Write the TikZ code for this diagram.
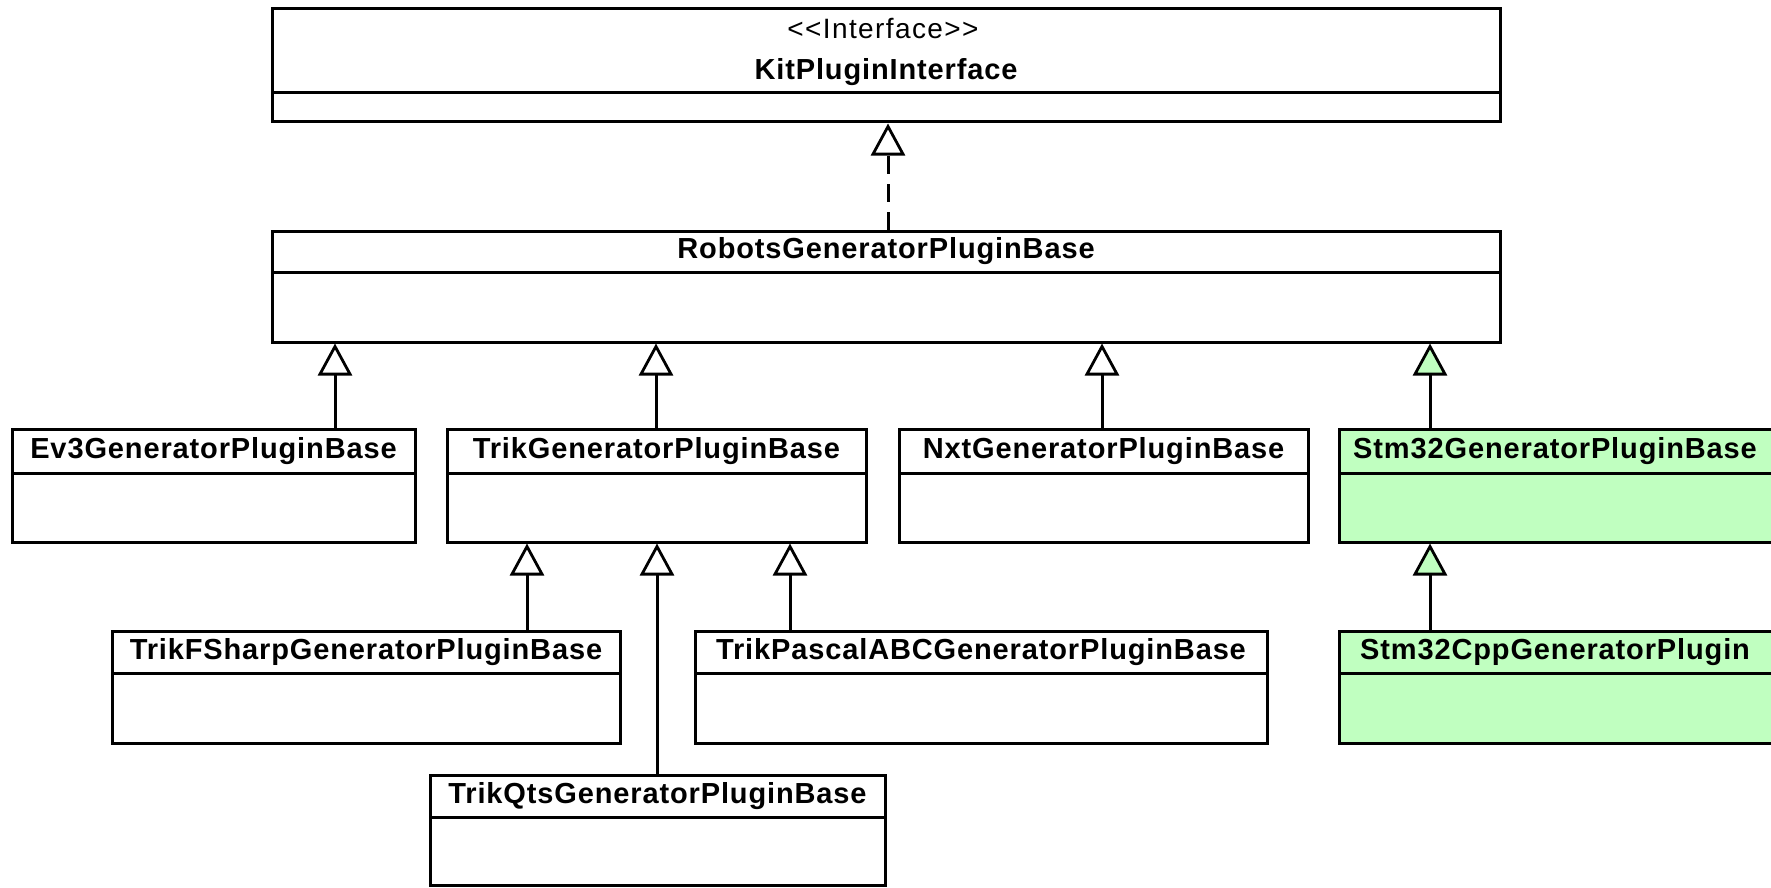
\documentclass[tikz,border=0pt]{standalone}
\usepackage{fontspec}
\setmainfont{Liberation Sans}
\newfontfamily\stereofont[LetterSpace=5]{Liberation Sans}
\usetikzlibrary{arrows.meta}
\definecolor{stmgreen}{RGB}{192,255,192}
\tikzset{
  classbox/.style={draw=black, line width=3pt, fill=white, inner sep=0pt},
  divline/.style={line width=3pt},
  titletext/.style={inner sep=0pt, font=\fontsize{29pt}{33pt}\selectfont\bfseries\addfontfeature{LetterSpace=3}},
  stereotext/.style={inner sep=0pt, font=\stereofont\fontsize{28pt}{32pt}\selectfont},
  inh/.style={line width=3pt, -{Triangle[open, length=32pt, width=34pt, line width=2.8pt]}},
  inhg/.style={line width=3pt, -{Triangle[length=32pt, width=34pt, line width=2.8pt, fill=stmgreen, color=black]}},
  realiz/.style={line width=3pt, dash pattern=on 18pt off 10pt, -{Triangle[open, length=32pt, width=34pt, line width=2.8pt]}}
}
% \umlclass{name}{x1}{y1}{x2}{y2}{ydiv}{fill}{title}
\newcommand{\umlclass}[8]{%
  \node[classbox, fill=#7, minimum width={(#4-#2)*1pt}, minimum height={(#5-#3)*1pt}] (#1) at ({(#2+#4)/2},{(#3+#5)/2}) {};
  \draw[divline] (#2,#6) -- (#4,#6);
  \node[titletext] (#1-t) at ({(#2+#4)/2},{(#3+#6)/2}) {#8};
}
\begin{document}
\begin{tikzpicture}[x=1pt, y=-1pt]
\useasboundingbox[fill=white] (0,0) rectangle (1771,888);

% interface
\node[classbox, minimum width=1228pt, minimum height=113pt] (kit) at (886,65.5) {};
\draw[divline] (272,93) -- (1500,93);
\node[stereotext] (kit-s) at (883,29) {<<Interface>>};
\node[titletext] (kit-t) at (886,72) {KitPluginInterface};

\umlclass{robots}{272}{231}{1500}{342}{272}{white}{RobotsGeneratorPluginBase}
\umlclass{ev3}{12}{429}{415}{542}{473}{white}{Ev3GeneratorPluginBase}
\umlclass{trik}{447}{429}{866}{542}{473}{white}{TrikGeneratorPluginBase}
\umlclass{nxt}{899}{429}{1308}{542}{473}{white}{NxtGeneratorPluginBase}
\umlclass{stm}{1339}{429}{1785}{542}{473}{stmgreen}{}
\node[titletext] (stm-t2) at (1555,451) {Stm32GeneratorPluginBase};
\umlclass{fsharp}{112}{631}{620}{743}{673}{white}{TrikFSharpGeneratorPluginBase}
\umlclass{pascal}{695}{631}{1267}{743}{673}{white}{TrikPascalABCGeneratorPluginBase}
\umlclass{cpp}{1339}{631}{1785}{743}{673}{stmgreen}{}
\node[titletext] (cpp-t2) at (1555,652) {Stm32CppGeneratorPlugin};
\umlclass{qts}{430}{775}{885}{885}{817}{white}{TrikQtsGeneratorPluginBase}

% x positions of connectors
\coordinate (xk) at (888,0);
\coordinate (xev3) at (335,0);
\coordinate (xtrik) at (656,0);
\coordinate (xnxt) at (1102,0);
\coordinate (xstm) at (1430,0);
\coordinate (xfs) at (527,0);
\coordinate (xqts) at (657,0);
\coordinate (xpas) at (790,0);

\draw[realiz] (robots.north -| xk) -- (kit.south -| xk);
\draw[inh] (ev3.north -| xev3) -- (robots.south -| xev3);
\draw[inh] (trik.north -| xtrik) -- (robots.south -| xtrik);
\draw[inh] (nxt.north -| xnxt) -- (robots.south -| xnxt);
\draw[inhg] (stm.north -| xstm) -- (robots.south -| xstm);
\draw[inh] (fsharp.north -| xfs) -- (trik.south -| xfs);
\draw[inh] (qts.north -| xqts) -- (trik.south -| xqts);
\draw[inh] (pascal.north -| xpas) -- (trik.south -| xpas);
\draw[inhg] (cpp.north -| xstm) -- (stm.south -| xstm);
\end{tikzpicture}
\end{document}
